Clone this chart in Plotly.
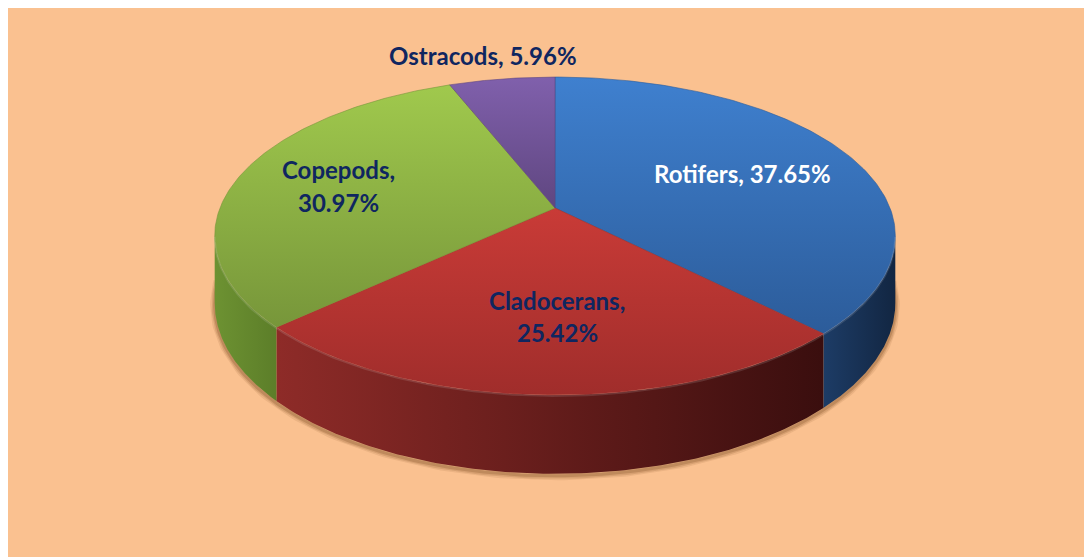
import numpy as np
import plotly.graph_objects as go

# ---- data ----
categories = ["Rotifers", "Cladocerans", "Copepods", "Ostracods"]
values = [37.65, 25.42, 30.97, 5.96]

# ---- styles ----
top_colors = {
    "Rotifers": ("#3F80CF", "#2C5C9A"),
    "Cladocerans": ("#C93B37", "#A02D2B"),
    "Copepods": ("#A0C94D", "#77963A"),
    "Ostracods": ("#8060AC", "#5F4680"),
}
side_colors = {
    "Rotifers": ("#1D3C66", "#122642"),
    "Cladocerans": ("#8E2B28", "#3A0E0E"),
    "Copepods": ("#6D9232", "#5C7E29"),
    "Ostracods": ("#5A427A", "#3E2D56"),
}
label_color = {"Rotifers": "#FFFFFF", "Cladocerans": "#0F2660",
               "Copepods": "#0F2660", "Ostracods": "#0F2660"}
# label anchor positions in page pixel coordinates (lines listed separately)
label_pos = {
    "Rotifers": [(742, 173)],
    "Cladocerans": [(557, 300), (557, 332)],
    "Copepods": [(338, 169), (338, 202)],
    "Ostracods": [(483, 55)],
}

OFF = 8                 # page body margin
W, H = 1092 - OFF, 557 - OFF
CX, CY = 555.0, 208.0   # projected centre of pie
A, B = 335.0, 154.0     # horizontal / vertical radius scale
K = 0.176               # perspective factor
D = 65.0                # thickness

def proj(theta_deg, drop=0.0):
    t = np.radians(theta_deg)
    X, Z = np.sin(t), np.cos(t)
    w = 1 + K * Z
    return CX + A * X / w, CY - B * Z / w + drop / w

# silhouette angles
ths = np.linspace(0, 360, 3601)
xs, _ = proj(ths)
th_r = ths[np.argmax(xs)]
th_l = ths[np.argmin(xs)]

total = sum(values)
bounds = np.concatenate([[0], np.cumsum(values) / total * 360])

fig = go.Figure()

# shadow under the front rim
sh_t = np.linspace(th_r - 8, th_l + 8, 200)
sx, sy = proj(sh_t, D)
for wdt, op in [(9, 0.10), (6, 0.16), (3, 0.22)]:
    fig.add_trace(go.Scatter(x=sx, y=sy + 2, mode="lines",
                             line=dict(color=f"rgba(110,60,20,{op})", width=wdt),
                             hoverinfo="skip", showlegend=False))

# side walls
for i, cat in enumerate(categories):
    a0, a1 = bounds[i], bounds[i + 1]
    s0, s1 = max(a0, th_r), min(a1, th_l)
    if s1 <= s0:
        continue
    t = np.linspace(s0, s1, 120)
    tx, ty = proj(t)
    bx, by = proj(t[::-1], D)
    px = np.concatenate([tx, bx, tx[:1]])
    py = np.concatenate([ty, by, ty[:1]])
    c0, c1 = side_colors[cat]
    fig.add_trace(go.Scatter(
        x=px, y=py, mode="lines", fill="toself",
        line=dict(width=0, color=c1),
        fillgradient=dict(type="horizontal",
                          colorscale=[[0, c0], [1, c1]],
                          start=float(px.min()), stop=float(px.max())),
        hoverinfo="skip", showlegend=False))

# top faces
for i, cat in enumerate(categories):
    a0, a1 = bounds[i], bounds[i + 1]
    t = np.linspace(a0, a1, 150)
    tx, ty = proj(t)
    px = np.concatenate([[CX], tx, [CX]])
    py = np.concatenate([[CY], ty, [CY]])
    c0, c1 = top_colors[cat]
    fig.add_trace(go.Scatter(
        x=px, y=py, mode="lines", fill="toself",
        line=dict(width=0.6, color=c1),
        fillgradient=dict(type="vertical",
                          colorscale=[[0, c0], [1, c1]],
                          start=float(py.min()), stop=float(py.max())),
        hoverinfo="skip", showlegend=False))

# bevel highlight along front rim of top
hl_t = np.linspace(th_r, th_l, 200)
hx, hy = proj(hl_t)
fig.add_trace(go.Scatter(x=hx, y=hy + 1, mode="lines",
                         line=dict(color="rgba(255,255,255,0.12)", width=2),
                         hoverinfo="skip", showlegend=False))

# labels
for cat, val in zip(categories, values):
    pos = label_pos[cat]
    if len(pos) == 1:
        texts = [f"{cat}, {val:.2f}%"]
    else:
        texts = [f"{cat},", f"{val:.2f}%"]
    for (x, y), txt in zip(pos, texts):
        fig.add_annotation(x=x, y=y, text=f"<b>{txt}</b>", showarrow=False,
                           xanchor="center", yanchor="middle",
                           font=dict(family="Lato", size=24,
                                     color=label_color[cat]))

PEACH = "#FAC190"
fig.update_layout(
    width=W, height=H, autosize=False,
    margin=dict(l=0, r=0, t=0, b=0),
    paper_bgcolor=PEACH, plot_bgcolor=PEACH,
    xaxis=dict(range=[OFF, OFF + W], visible=False, fixedrange=True),
    yaxis=dict(range=[OFF + H, OFF], visible=False, fixedrange=True),
    showlegend=False,
)

fig.write_html("out.html")
